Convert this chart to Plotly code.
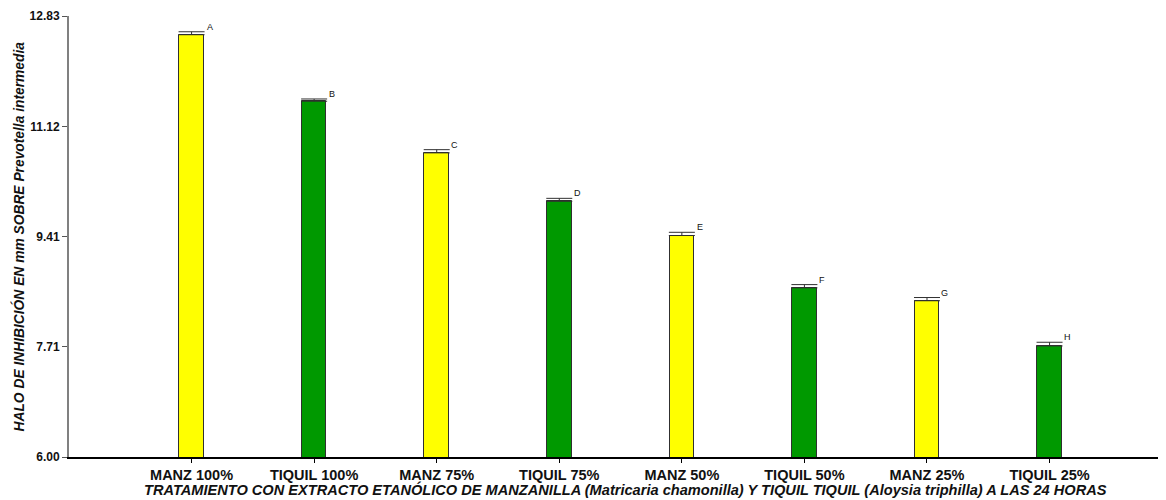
import plotly.graph_objects as go

categories = ["MANZ 100%", "TIQUIL 100%", "MANZ 75%", "TIQUIL 75%",
              "MANZ 50%", "TIQUIL 50%", "MANZ 25%", "TIQUIL 25%"]
values = [12.54, 11.51, 10.71, 9.96, 9.43, 8.62, 8.42, 7.72]
errors = [0.046, 0.035, 0.05, 0.046, 0.05, 0.05, 0.05, 0.057]
letters = ["A", "B", "C", "D", "E", "F", "G", "H"]
colors = ["#FFFF00", "#009900"] * 4
ytick_vals = [6.00, 7.71, 9.41, 11.12, 12.83]
ytick_text = ["6.00", "7.71", "9.41", "11.12", "12.83"]

FONT = "Liberation Sans, Arial, sans-serif"

fig = go.Figure()
fig.add_trace(go.Bar(
    x=categories, y=values, width=0.2,
    marker=dict(color=colors, line=dict(color="#303030", width=1)),
    error_y=dict(type="data", symmetric=False, array=errors,
                 arrayminus=[0] * len(errors),
                 color="#303030", thickness=1, width=13),
    showlegend=False,
))

for c, v, e, l in zip(categories, values, errors, letters):
    fig.add_annotation(x=c, y=v + e, text=l, showarrow=False,
                       xshift=18, yshift=5, xanchor="center", yanchor="middle",
                       font=dict(family=FONT, size=9, color="#111"))

fig.add_annotation(
    xref="paper", yref="paper", x=0.5077, y=0, yshift=-32,
    xanchor="center", yanchor="middle", showarrow=False,
    text="<b><i>TRATAMIENTO CON EXTRACTO ETANÓLICO DE MANZANILLA (Matricaria chamonilla) Y TIQUIL TIQUIL (Aloysia triphilla) A LAS 24 HORAS</i></b>",
    font=dict(family=FONT, size=14.6, color="#111"))

fig.add_annotation(
    xref="paper", yref="paper", x=0, xshift=-51, y=0.5,
    xanchor="center", yanchor="middle", showarrow=False, textangle=-90,
    text="<b><i>HALO DE INHIBICIÓN EN mm SOBRE Prevotella intermedia</i></b>",
    font=dict(family=FONT, size=13.8, color="#111"))

# page body has an 8px default margin; compensate so the plot area sits at
# x 69..1166, y 16..457 in the 1166x500 window
fig.update_layout(
    width=1158, height=492,
    margin=dict(l=61, r=0, t=8, b=43),
    plot_bgcolor="white", paper_bgcolor="white",
    bargap=0,
    xaxis=dict(
        type="category", range=[-1, 7.95], automargin=False,
        showline=True, linecolor="black", linewidth=1.5,
        ticks="outside", ticklen=4, tickcolor="black",
        tickfont=dict(family=FONT, size=14.5, color="#111", weight="bold"),
        showgrid=False, zeroline=False,
    ),
    yaxis=dict(
        range=[6, 12.83], tickvals=ytick_vals, ticktext=ytick_text,
        automargin=False,
        showline=True, linecolor="#808080", linewidth=2,
        ticks="outside", ticklen=5, tickcolor="#555",
        tickfont=dict(family=FONT, size=12, color="#111", weight="bold"),
        showgrid=False, zeroline=False,
    ),
)

fig.write_html("out.html")
